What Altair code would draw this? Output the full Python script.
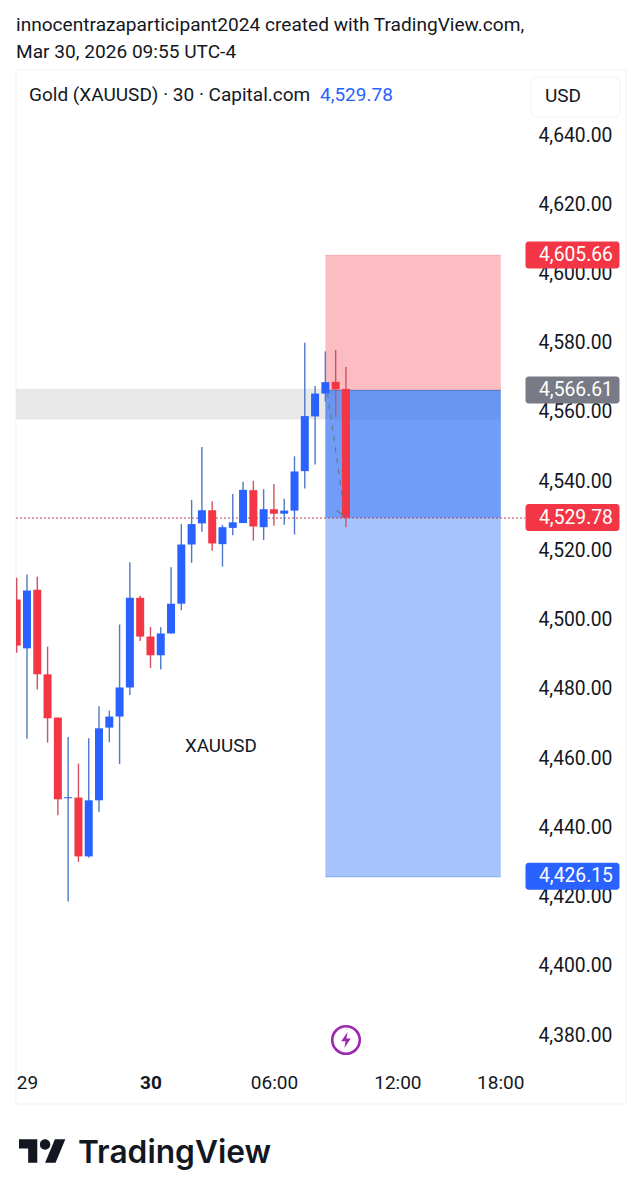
import altair as alt
import pandas as pd

# candle values
bar_index = list(range(33))
highs = [4512.1,4513.0,4512.4,4492.2,4471.7,4466.1,4458.4,4465.7,4475.0,4473.7,4498.6,4516.6,4506.9,4497.9,4497.8,4515.1,4527.6,4534.6,4549.9,4534.2,4527.4,4536.3,4539.8,4540.1,4537.7,4539.2,4534.9,4547.2,4580.0,4567.5,4577.5,4577.9,4573.0]
lows = [4490.4,4465.6,4479.8,4464.5,4443.5,4418.6,4430.0,4431.3,4444.4,4464.6,4458.3,4478.2,4493.8,4486.0,4485.6,4496.0,4502.7,4516.4,4525.4,4519.9,4515.3,4524.4,4527.9,4522.8,4523.0,4527.1,4527.4,4524.6,4537.9,4544.8,4563.0,4558.5,4526.7]
body_tops = [4505.8,4508.4,4508.6,4484.2,4471.7,4448.7,4448.6,4447.8,4468.6,4472.0,4480.4,4506.3,4506.3,4495.1,4496.0,4504.6,4521.7,4527.6,4531.6,4531.6,4526.7,4528.1,4537.5,4537.4,4531.9,4531.9,4531.5,4542.8,4558.8,4565.3,4568.6,4568.7,4566.6]
body_bots = [4492.5,4491.7,4484.2,4471.5,4448.1,4448.4,4431.6,4431.6,4447.8,4468.8,4472.0,4480.4,4495.1,4489.7,4489.7,4496.0,4504.6,4521.7,4527.8,4522.0,4521.8,4526.5,4527.9,4526.9,4526.7,4530.6,4530.6,4531.5,4542.9,4558.7,4565.3,4566.5,4529.4]
is_up = [0,1,0,0,0,1,0,1,1,1,1,1,0,0,1,1,1,1,1,0,1,1,1,0,1,0,1,1,1,1,1,0,0]

# trade box and levels
stop_price = 4605.66
entry_price = 4566.61
last_price = 4529.78
target_price = 4426.15
box_start = 30
box_end = 47.05
band_top = 4566.7
band_bottom = 4557.8

y_ticks = [4380,4400,4420,4440,4460,4480,4500,4520,4540,4560,4580,4600,4620,4640]
x_ticks = [1,13,25,37,47]
x_tick_labels = ["29","30","06:00","12:00","18:00"]

tag_prices = [stop_price, entry_price, last_price, target_price]
tag_labels = ["4,605.66","4,566.61","4,529.78","4,426.15"]
tag_colors = ["#f23645","#787b86","#f23645","#2962ff"]

header_1 = "innocentrazaparticipant2024 created with TradingView.com,"
header_2 = "Mar 30, 2026 09:55 UTC-4"
legend_text = "Gold (XAUUSD) · 30 · Capital.com"
legend_price = "4,529.78"
currency = "USD"
symbol_note = "XAUUSD"
brand = "TradingView"

FONT = "Roboto"
INK = "#131722"
PW, PH = 510, 1000
LEVEL_SHIFT = 1.5
xs = alt.Scale(domain=[-0.069, 49.5], nice=False, zero=False, padding=0)
ys = alt.Scale(domain=[4369.89, 4658.78], nice=False, zero=False, padding=0)

x_axis = alt.Axis(
    values=x_ticks, grid=False, domain=False, ticks=False, labelFont=FONT, labelFontSize=19,
    labelColor=INK, labelPadding=3, labelOverlap=False, labelFlush=False, labelBound=False, zindex=0,
    labelFontWeight={"condition": {"test": f"datum.value == {x_ticks[1]}", "value": "bold"}, "value": "normal"},
    labelExpr="{" + ",".join(f"'{v}':'{t}'" for v, t in zip(x_ticks, x_tick_labels)) + "}[datum.value]")
y_axis = alt.Axis(
    orient="right", values=y_ticks, grid=False, domain=False, ticks=False, labelFont=FONT, labelFontSize=19.3,
    labelColor=INK, labelPadding=12, format=",.2f", labelOverlap=False, labelBound=False, zindex=0)

candles = pd.DataFrame({"i": bar_index, "h": highs, "l": lows, "t": body_tops, "b": body_bots, "up": is_up})
candles["body"] = candles.up.map({1: "#2962ff", 0: "#f23645"})
candles["wick"] = candles.up.map({1: "#4f78c8", 0: "#d4505e"})

one = pd.DataFrame({"a": [0]})

def X(f):
    return alt.X(f, scale=xs, axis=x_axis, title=None)
def Y(f):
    return alt.Y(f, scale=ys, axis=y_axis, title=None)

def text(s, x, y, size=19, color=INK, **kw):
    return alt.Chart(one).mark_text(align="left", baseline="middle", font=kw.pop("font", FONT),
                                    fontSize=size, color=color, **kw).encode(
        x=alt.value(x - 16), y=alt.value(y - 70), text=alt.value(s))

def frame(x0, x1, y0, y1, **kw):
    return alt.Chart(one).mark_rect(**kw).encode(
        x=alt.value(x0 - 16), x2=alt.value(x1 - 16), y=alt.value(y0 - 70), y2=alt.value(y1 - 70))

panel = frame(16, 626, 70, 1104, fill="transparent", stroke="#f0f3fa", strokeWidth=1)
usd_box = frame(531, 620, 77, 117, fill="transparent", stroke="#f0f3fa", strokeWidth=1, cornerRadius=5)

band = alt.Chart(pd.DataFrame({"x0": [-0.069], "x1": [box_end], "y0": [band_top], "y1": [band_bottom]})).mark_rect(
    color="#e8e8e8").encode(x=X("x0:Q"), x2="x1:Q", y=Y("y0:Q"), y2="y1:Q")

boxes_df = pd.DataFrame({
    "x0": [box_start]*3, "x1": [box_end]*3,
    "y0": [stop_price, entry_price, entry_price],
    "y1": [entry_price, target_price, last_price],
    "c": ["#f23645", "#3b7bf6", "#2f6ef2"],
    "o": [0.33, 0.45, 0.45],
})
boxes = alt.Chart(boxes_df).mark_rect(yOffset=LEVEL_SHIFT, y2Offset=LEVEL_SHIFT).encode(
    x=X("x0:Q"), x2="x1:Q", y=Y("y0:Q"), y2="y1:Q",
    color=alt.Color("c:N", scale=None), opacity=alt.Opacity("o:Q", scale=None))
box_edges = alt.Chart(pd.DataFrame({"x0": [box_start]*3, "x1": [box_end]*3, "y": [stop_price, entry_price, target_price],
                                    "c": ["#f7a5ad", "#4a7fd6", "#7fa8ee"]})).mark_rule(strokeWidth=1, yOffset=LEVEL_SHIFT).encode(
    x=X("x0:Q"), x2="x1:Q", y=Y("y:Q"), color=alt.Color("c:N", scale=None))

last_line = alt.Chart(pd.DataFrame({"x0": [-0.069], "x1": [49.4], "y": [last_price]})).mark_rule(
    color="#c2405a", strokeWidth=1, strokeDash=[2, 2], yOffset=LEVEL_SHIFT).encode(x=X("x0:Q"), x2="x1:Q", y=Y("y:Q"))

wicks = alt.Chart(candles).mark_rule(strokeWidth=1.4, clip=True).encode(
    x=X("i:Q"), y=Y("h:Q"), y2="l:Q", color=alt.Color("wick:N", scale=None))
bodies = alt.Chart(candles).mark_bar(size=8, clip=True).encode(
    x=X("i:Q"), y=Y("t:Q"), y2="b:Q", color=alt.Color("body:N", scale=None))

dash_df = pd.DataFrame({"x": [30.2, 31.85], "y": [4565.5, 4531.0]})
dash = alt.Chart(dash_df).mark_line(color="#6b7690", strokeWidth=1.2, strokeDash=[5, 6]).encode(x=X("x:Q"), y=Y("y:Q"))
tip_df = pd.DataFrame({"x": [31.1, 31.85], "y": [4531.5, 4529.78]})
tip = alt.Chart(tip_df).mark_line(color="#6b7690", strokeWidth=1.2).encode(x=X("x:Q"), y=Y("y:Q"))

tags_df = pd.DataFrame({"p": tag_prices, "t": tag_labels, "c": tag_colors})
tag_rects = alt.Chart(tags_df).mark_rect(height=27, cornerRadius=3, yOffset=1).encode(
    x=alt.value(509.5), x2=alt.value(603.5), y=Y("p:Q"), color=alt.Color("c:N", scale=None))
tag_texts = alt.Chart(tags_df).mark_text(align="left", baseline="middle", font=FONT, fontSize=19.3, color="#ffffff", yOffset=1).encode(
    x=alt.value(523), y=Y("p:Q"), text="t:N")

bolt_ring = alt.Chart(one).mark_point(shape="circle", size=755, filled=False, stroke="#9c27b0", strokeWidth=2.6, opacity=1).encode(
    x=alt.value(346 - 16), y=alt.value(1040 - 70))
bolt = alt.Chart(one).mark_point(
    shape="M0.2,-1 L-0.6,0.15 L-0.05,0.15 L-0.2,1 L0.6,-0.2 L0.05,-0.2 Z",
    size=256, filled=True, fill="#9c27b0", stroke=None, opacity=1).encode(x=alt.value(346 - 16), y=alt.value(1040 - 70))
logo = alt.Chart(one).mark_point(
    shape=("M-0.222,0.5 L-0.611,0.5 L-0.611,-0.111 L-1,-0.111 L-1,-0.5 L-0.222,-0.5 Z "
           "M0.556,0.5 L0.111,0.5 L0.528,-0.5 L0.972,-0.5 Z "
           "M-0.111,-0.278 a0.222,0.222 0 1 0 0.444,0 a0.222,0.222 0 1 0 -0.444,0 Z"),
    size=2209, filled=True, fill="#131722", stroke=None, opacity=1).encode(x=alt.value(42.5 - 16), y=alt.value(1151 - 70))

chart = alt.layer(
    panel, usd_box, band, boxes, box_edges, last_line, wicks, bodies, dash, tip,
    tag_rects, tag_texts,
    text(header_1, 16, 25, 19.1),
    text(header_2, 16, 52, 19.1),
    text(legend_text, 29, 95, 19),
    text(legend_price, 320, 95, 19, color="#2962ff"),
    text(currency, 545, 96, 19),
    text(symbol_note, 185, 746, 18.8),
    bolt_ring, bolt, logo,
    text(brand, 78, 1153, 31.7, font="Inter", fontWeight=600),
).properties(
    width=PW, height=PH, autosize="none",
    padding={"left": 8, "top": 62, "right": 108, "bottom": 120},
).configure_view(stroke=None)

chart.save("out.html", embed_options={"renderer": "svg", "actions": False})
